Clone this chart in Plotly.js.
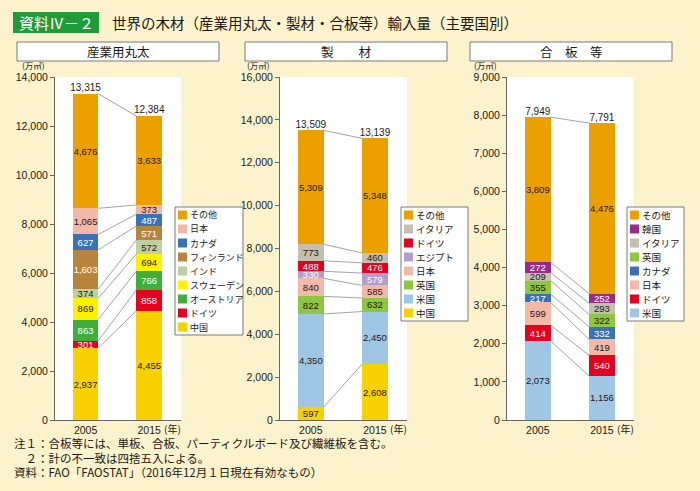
<!DOCTYPE html>
<html><head><meta charset="utf-8">
<script src="https://cdn.plot.ly/plotly-3.0.1.min.js"></script>
<style>html,body{margin:0;padding:0;background:#FCF2CC;}</style>
</head><body><div id="chart" style="width:700px;height:491px;"></div>
<script>
// ---------------- DATA ----------------
const years = ['2005', '2015'];

// 産業用丸太 (stack order: bottom -> top)
const logNames = ['中国', 'ドイツ', 'オーストリア', 'スウェーデン', 'インド', 'フィンランド', 'カナダ', '日本', 'その他'];
const log2005 = [2937, 301, 863, 869, 374, 1603, 627, 1065, 4676];
const log2015 = [4455, 858, 766, 694, 572, 571, 487, 373, 3633];
const logTotals = [13315, 12384];
const logTicks = [0, 2000, 4000, 6000, 8000, 10000, 12000, 14000];

// 製材
const sawnNames = ['中国', '米国', '英国', '日本', 'エジプト', 'ドイツ', 'イタリア', 'その他'];
const sawn2005 = [597, 4350, 822, 840, 330, 488, 773, 5309];
const sawn2015 = [2608, 2450, 632, 585, 579, 476, 460, 5348];
const sawnTotals = [13509, 13139];
const sawnTicks = [0, 2000, 4000, 6000, 8000, 10000, 12000, 14000, 16000];

// 合板等
const plyNames = ['米国', 'ドイツ', '日本', 'カナダ', '英国', 'イタリア', '韓国', 'その他'];
const ply2005 = [2073, 414, 599, 217, 355, 209, 272, 3809];
const ply2015 = [1156, 540, 419, 332, 322, 293, 252, 4476];
const plyTotals = [7949, 7791];
const plyTicks = [0, 1000, 2000, 3000, 4000, 5000, 6000, 7000, 8000, 9000];

const panelTitles = ['産業用丸太', '製　　材', '合　板　等'];
const unitLabel = '(万㎥)';
const yearUnit = '(年)';
const mainTitle = '世界の木材（産業用丸太・製材・合板等）輸入量（主要国別）';
const badgeText = '資料Ⅳ－２';
const notes = [
  '注１：合板等には、単板、合板、パーティクルボード及び繊維板を含む。',
  '　２：計の不一致は四捨五入による。',
  '資料：FAO「FAOSTAT」（2016年12月１日現在有効なもの）'
];

// ---------------- STYLE ----------------
const colors = {
  'その他': '#EBA000', '日本': '#F3B9A8', 'カナダ': '#3A72B8', 'フィンランド': '#B8843C',
  'インド': '#BCD0A0', 'スウェーデン': '#FFF100', 'オーストリア': '#3FAE3A', 'ドイツ': '#E60020',
  '中国': '#F7D200', 'イタリア': '#C4BFAF', 'エジプト': '#B59DCB', '英国': '#8DC63F',
  '米国': '#9FC6E4', '韓国': '#9A2B8C'
};
const whiteText = new Set(['カナダ', 'フィンランド', 'オーストリア', 'ドイツ', 'エジプト', '韓国']);

const W = 700, H = 491;
const px = v => v / W;
const py = v => (H - v) / H;
const NUM_FONT = "'Liberation Sans', 'Noto Sans CJK JP', sans-serif";
const JP_FONT = "'Noto Sans CJK JP', 'Liberation Sans', sans-serif";
const TXT = '#231815';
const barW = 0.4;

const panels = [
  {names: logNames, a: log2005, b: log2015, totals: logTotals, ticks: logTicks, ax: '', left: 55, right: 181, hdr: [17, 219], leg: [175, 243], legFont: 9},
  {names: sawnNames, a: sawn2005, b: sawn2015, totals: sawnTotals, ticks: sawnTicks, ax: '2', left: 280, right: 407, hdr: [245, 447], leg: [401, 468], legFont: 9.5},
  {names: plyNames, a: ply2005, b: ply2015, totals: plyTotals, ticks: plyTicks, ax: '3', left: 507, right: 634, hdr: [470, 672], leg: [627, 684], legFont: 9.5}
];
const plotTop = 77, plotBottom = 420;

const traces = [];
const shapes = [];
const annotations = [];
const layout = {
  width: W, height: H,
  margin: {l: 0, r: 0, t: 0, b: 0},
  paper_bgcolor: '#FCF2CC', plot_bgcolor: '#FFFFFF',
  barmode: 'stack', showlegend: false, hovermode: false,
  font: {family: NUM_FONT, color: TXT, size: 10}
};

panels.forEach((p, pi) => {
  const xa = 'x' + p.ax, ya = 'y' + p.ax;
  // bars
  p.names.forEach((n, i) => {
    traces.push({
      type: 'bar', name: n, x: [0, 1], y: [p.a[i], p.b[i]],
      xaxis: xa, yaxis: ya, width: barW,
      marker: {color: colors[n], line: {width: 0}},
      texttemplate: '%{y:,}', textposition: 'inside', insidetextanchor: 'middle',
      textangle: 0, constraintext: 'none', cliponaxis: false,
      textfont: {family: NUM_FONT, size: 9.5, color: whiteText.has(n) ? '#FFFFFF' : TXT}
    });
  });
  // totals
  const sumA = p.a.reduce((s, v) => s + v, 0), sumB = p.b.reduce((s, v) => s + v, 0);
  traces.push({
    type: 'scatter', mode: 'text', x: [0, 1], y: [sumA, sumB], xaxis: xa, yaxis: ya,
    text: p.totals.map(v => v.toLocaleString('en-US')), textposition: 'top center',
    textfont: {family: NUM_FONT, size: 10, color: TXT}, cliponaxis: false, showlegend: false
  });
  // connectors
  let ca = 0, cb = 0;
  p.names.forEach((n, i) => {
    ca += p.a[i]; cb += p.b[i];
    shapes.push({type: 'line', xref: xa, yref: ya, x0: barW / 2, x1: 1 - barW / 2, y0: ca, y1: cb,
      line: {color: '#8C8C8C', width: 0.8}});
  });
  // axes
  layout['xaxis' + p.ax] = {
    domain: [px(p.left), px(p.right)], anchor: ya, range: [-0.48, 1.5],
    tickvals: [0, 1], ticktext: years, showline: true, linecolor: '#666', linewidth: 1,
    ticks: '', showgrid: false, zeroline: false, fixedrange: true,
    tickfont: {family: NUM_FONT, size: 10.5, color: TXT}
  };
  layout['yaxis' + p.ax] = {
    domain: [py(plotBottom), py(plotTop)], anchor: xa, range: [0, p.ticks[p.ticks.length - 1]],
    tickvals: p.ticks, tickformat: ',', ticks: 'outside', ticklen: 4, tickcolor: '#666',
    showline: true, linecolor: '#666', linewidth: 1, showgrid: false, zeroline: false, fixedrange: true,
    tickfont: {family: NUM_FONT, size: 10.5, color: TXT}
  };
  // unit label
  annotations.push({xref: 'paper', yref: 'paper', x: px(p.left - 22), y: py(65.5), xanchor: 'center', yanchor: 'middle',
    text: unitLabel, showarrow: false, font: {family: JP_FONT, size: 8.5, color: TXT}});
  // year unit
  annotations.push({xref: 'paper', yref: 'paper', x: px(p.right + 2), y: py(428.5), xanchor: 'right', yanchor: 'middle',
    text: yearUnit, showarrow: false, font: {family: JP_FONT, size: 10, color: TXT}});
  // header box
  shapes.push({type: 'rect', xref: 'paper', yref: 'paper', x0: px(p.hdr[0]), x1: px(p.hdr[1]), y0: py(61), y1: py(42),
    fillcolor: '#FFFFFF', line: {color: '#7A7A7A', width: 1}});
  annotations.push({xref: 'paper', yref: 'paper', x: px((p.hdr[0] + p.hdr[1]) / 2), y: py(51.5), xanchor: 'center', yanchor: 'middle',
    text: panelTitles[pi], showarrow: false, font: {family: JP_FONT, size: 12.5, color: TXT}});
  // legend (top -> bottom = reverse of stack)
  const items = p.names.slice().reverse();
  const lTop = 207, step = 14, first = 215;
  const lBottom = first + step * (items.length - 1) + 8;
  shapes.push({type: 'rect', xref: 'paper', yref: 'paper', x0: px(p.leg[0]), x1: px(p.leg[1]), y0: py(lBottom), y1: py(lTop),
    fillcolor: '#FFFFFF', line: {color: '#7A7A7A', width: 1}});
  items.forEach((n, k) => {
    const cy = first + step * k;
    shapes.push({type: 'rect', xref: 'paper', yref: 'paper', x0: px(p.leg[0] + 3), x1: px(p.leg[0] + 12),
      y0: py(cy + 4.5), y1: py(cy - 4.5), fillcolor: colors[n], line: {width: 0}});
    annotations.push({xref: 'paper', yref: 'paper', x: px(p.leg[0] + 13), y: py(cy), xanchor: 'left', yanchor: 'middle',
      text: n, showarrow: false, font: {family: JP_FONT, size: p.legFont, color: TXT}});
  });
});

// title badge
shapes.push({type: 'rect', xref: 'paper', yref: 'paper', x0: px(13), x1: px(99), y0: py(33), y1: py(12),
  fillcolor: '#1F9B3A', line: {width: 0}});
annotations.push({xref: 'paper', yref: 'paper', x: px(56), y: py(22.5), xanchor: 'center', yanchor: 'middle',
  text: badgeText, showarrow: false, font: {family: JP_FONT, size: 15, color: '#FFFFFF'}});
annotations.push({xref: 'paper', yref: 'paper', x: px(110), y: py(22.5), xanchor: 'left', yanchor: 'middle',
  text: mainTitle, showarrow: false, font: {family: JP_FONT, size: 14.5, color: TXT}});
// notes
notes.forEach((t, i) => {
  annotations.push({xref: 'paper', yref: 'paper', x: px(12), y: py(443 + 14.5 * i), xanchor: 'left', yanchor: 'middle',
    text: t, showarrow: false, font: {family: JP_FONT, size: 11.5, color: TXT}});
});

layout.shapes = shapes;
layout.annotations = annotations;

Plotly.newPlot('chart', traces, layout, {displayModeBar: false, staticPlot: true});
</script>
</body></html>
